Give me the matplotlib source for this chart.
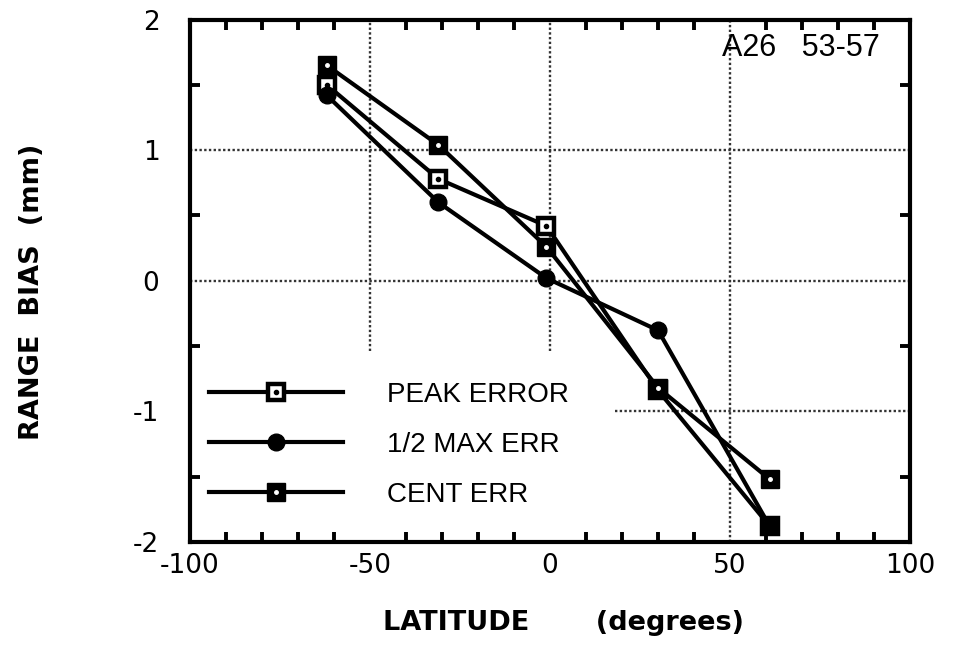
import numpy as np
import matplotlib
matplotlib.use('Agg')
import matplotlib.pyplot as plt
from matplotlib.ticker import MultipleLocator

plt.rcParams['font.family'] = ['Liberation Sans', 'DejaVu Sans']
plt.rcParams['axes.unicode_minus'] = False

latitude = [-62, -31, -1, 30, 61]
peak_err = [1.50, 0.78, 0.42, -0.84, -1.88]
half_max_err = [1.42, 0.60, 0.02, -0.38, -1.88]
cent_err = [1.65, 1.04, 0.26, -0.82, -1.52]

x_ticks = [-100, -50, 0, 50, 100]
y_ticks = [-2, -1, 0, 1, 2]

fig = plt.figure(figsize=(9.55, 6.56), dpi=100)
ax = fig.add_axes([0.199, 0.174, 0.754, 0.796])

# grid, drawn by hand because the legend blanks part of it
grid_kw = dict(color='0.2', lw=1.7, ls=(0, (1, 1)), zorder=1)
for gx in [-50, 0]:
    ax.plot([gx, gx], [-0.54, 2], **grid_kw)
ax.plot([50, 50], [-2, 2], **grid_kw)
ax.plot([-100, 100], [1, 1], **grid_kw)
ax.plot([-100, 100], [0, 0], **grid_kw)
ax.plot([18, 100], [-1, -1], **grid_kw)

lw = 3.0
p1, = ax.plot(latitude, peak_err, '-s', color='k', lw=lw, ms=12,
              mfc='white', mec='k', mew=3.2, zorder=3)
p1d, = ax.plot(latitude, peak_err, 'o', color='k', ms=3, ls='none', zorder=4)
p2, = ax.plot(latitude, half_max_err, '-o', color='k', lw=lw, ms=12, zorder=3)
p3, = ax.plot(latitude, cent_err, '-s', color='k', lw=lw, ms=12.5, zorder=3)
p3d, = ax.plot(latitude, cent_err, 'o', color='white', ms=2.5, ls='none', zorder=4)

ax.set_xlim(-100, 100)
ax.set_ylim(-2, 2)
ax.set_xticks(x_ticks)
ax.set_yticks(y_ticks)
ax.xaxis.set_minor_locator(MultipleLocator(10))
ax.yaxis.set_minor_locator(MultipleLocator(0.5))
ax.tick_params(which='both', direction='in', top=True, right=True,
               width=2.8, length=7)
ax.tick_params(axis='x', which='major', length=0, pad=8)
ax.tick_params(axis='y', which='major', length=0, pad=22)
ax.tick_params(axis='y', which='minor', length=7)
for lab in ax.get_xticklabels() + ax.get_yticklabels():
    lab.set_fontfamily('DejaVu Sans')
    lab.set_fontsize(19)
for s in ax.spines.values():
    s.set_linewidth(3)

ax.text(0.958, 0.974, 'A26   53-57', transform=ax.transAxes, ha='right',
        va='top', fontsize=22)

leg = ax.legend([(p1, p1d), p2, (p3, p3d)],
                ['PEAK ERROR', '1/2 MAX ERR', 'CENT ERR'],
                loc='center left', bbox_to_anchor=(0.015, 0.186),
                handlelength=4.8, handletextpad=1.6, labelspacing=0.86,
                fontsize=20, frameon=True, borderpad=0.3, borderaxespad=0)
leg.get_frame().set_facecolor('white')
leg.get_frame().set_edgecolor('none')
leg.get_frame().set_alpha(1)
leg.set_zorder(2)

fig.text(0.59, 0.03, 'LATITUDE       (degrees)', ha='center', va='bottom',
         fontsize=19.5, fontweight='bold', family='DejaVu Sans')
fig.text(0.034, 0.555, 'RANGE  BIAS  (mm)', ha='center', va='center',
         rotation=90, fontsize=19.5, fontweight='bold', family='DejaVu Sans')

fig.savefig('out.png', dpi=100)
